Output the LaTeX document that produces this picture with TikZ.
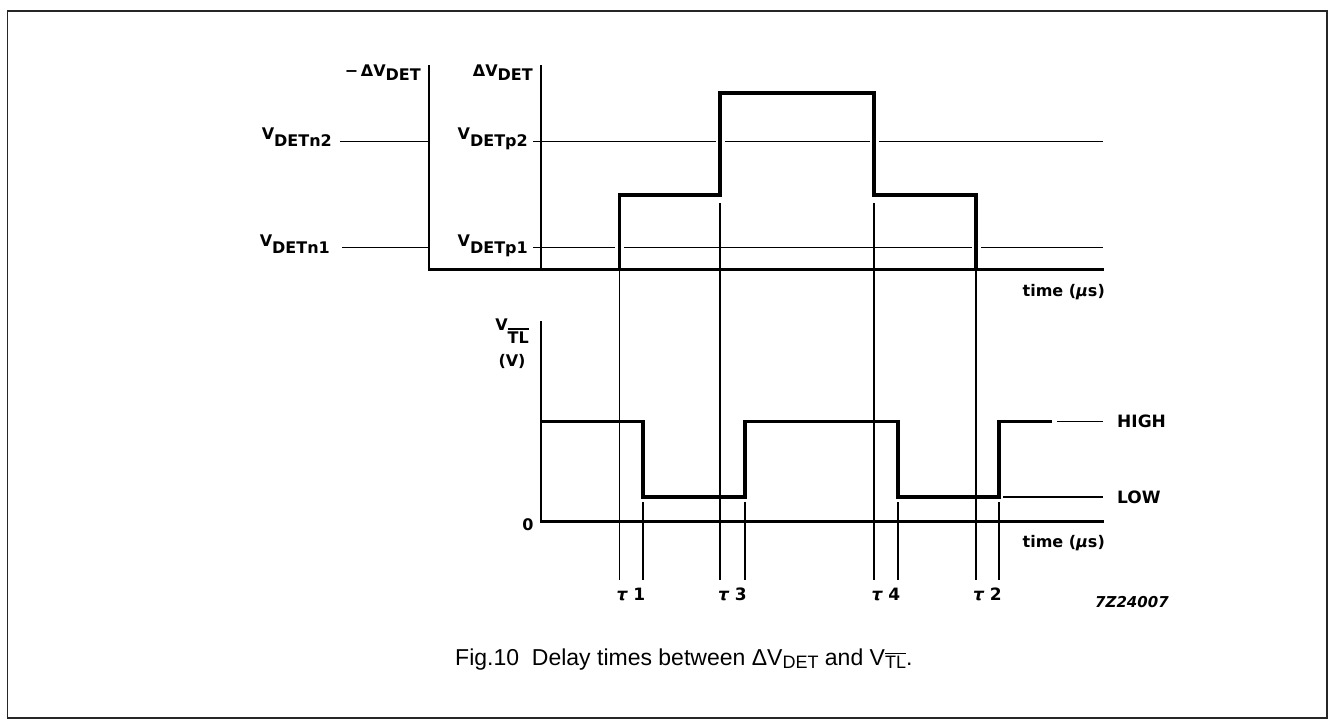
\documentclass[tikz,border=0pt]{standalone}
\usepackage{fontspec}
\setmainfont{Liberation Sans}
\newfontfamily\labfont{DejaVu Sans}
\newcommand\ovl[1]{\vbox{\hrule height 1.3pt\kern1.6pt\hbox{#1}}}
\newcommand\csub[1]{\raisebox{-3pt}{\fontsize{18}{18}\selectfont #1}}
\begin{document}
\begin{tikzpicture}[x=1pt,y=-1pt,
  axis/.style={line width=2.6pt,line cap=rect},
  sig/.style={line width=3.6pt,line join=miter},
  lev/.style={line width=1.3pt},
  tau/.style={line width=1.2pt},
  halo/.style={white,line width=9pt},
  lbl/.style={font=\labfont\bfseries\fontsize{16}{16}\selectfont, inner sep=0pt},
  big/.style={font=\labfont\bfseries\fontsize{17}{17}\selectfont, inner sep=0pt},
]
\useasboundingbox (0,0) rectangle (1329,720);
\draw[line width=1.8pt, black!85] (7.5,11) rectangle (1327,718);

% ---- coordinates ----
\coordinate (A1t) at (429,66);   \coordinate (A1b) at (429,269.5);
\coordinate (A2t) at (541,66);   \coordinate (A2b) at (541,269.5);
\coordinate (B1e) at (1103,269.5);
\coordinate (A3t) at (541,322);  \coordinate (A3b) at (541,521.5);
\coordinate (B2e) at (1103,521.5);

% ---- top chart labels ----
\node[lbl,anchor=base east] (mdv) at (421,76) {−\,ΔV\raisebox{-4pt}{DET}};
\node[lbl,anchor=base east] (dv)  at (533,76) {ΔV\raisebox{-4pt}{DET}};
\node[lbl,anchor=base east] (n2) at (332,139.5) {V\raisebox{-7pt}{DETn2}};
\node[lbl,anchor=base east] (n1) at (330,246) {V\raisebox{-7pt}{DETn1}};
\node[lbl,anchor=base east] (p2) at (528,139.5) {V\raisebox{-7pt}{DETp2}};
\node[lbl,anchor=base east] (p1) at (528,246) {V\raisebox{-7pt}{DETp1}};
\node[lbl,anchor=base east] (t1) at (1105,296) {time ({\itshape μ}s)};

% level lines
\draw[lev] (340,141.5) -- (A1t |- 0,141.5);
\draw[lev] (342,247.5) -- (A1t |- 0,247.5);
\draw[lev] (533,141.5) -- (1103,141.5);
\draw[lev] (533,247.5) -- (1103,247.5);

% tau lines
\draw[tau] (619.5,269.5) -- (619.5,580);
\draw[tau] (720,203) -- (720,580);
\draw[tau] (874,203) -- (874,580);
\draw[tau] (976,269.5) -- (976,580);
\draw[tau] (643,502) -- (643,580);
\draw[tau] (745,502) -- (745,580);
\draw[tau] (898,502) -- (898,580);
\draw[tau] (999,502) -- (999,580);

% halos
\draw[halo] (619.5,240) -- (619.5,255);
\draw[halo] (976,240) -- (976,255);
\draw[halo] (720,134) -- (720,149);
\draw[halo] (874,134) -- (874,149);

% axes
\draw[axis] (A1t) -- (A1b) -- (B1e);
\draw[axis] (A2t) -- (A2b);
% pulse
\draw[sig] (619.5,269.5) -- (619.5,195) -- (720,195) -- (720,93) -- (874,93) -- (874,195) -- (976,195) -- (976,269.5);

% ---- bottom chart ----
\node[lbl,anchor=base east] (vtl) at (529,330.5) {V\raisebox{-12.5pt}{\ovl{TL}}};
\node[lbl,anchor=base] (vu) at (512,366) {(V)};
\node[lbl,anchor=base] (zero) at (528,530) {0};
\node[lbl,anchor=base east] (t2) at (1105,547) {time ({\itshape μ}s)};
\draw[axis] (A3t) -- (A3b) -- (B2e);
\draw[sig] (541,421.5) -- (643,421.5) -- (643,497) -- (745,497) -- (745,421.5) -- (898,421.5) -- (898,497) -- (999,497) -- (999,421.5) -- (1052,421.5);
\draw[lev] (1057,421.5) -- (1103,421.5);
\draw[lev] (1003,497) -- (1103,497);
\node[big,anchor=base west] (hi) at (1117,427.5) {HIGH};
\node[big,anchor=base west] (lo) at (1117,503) {LOW};

% tau labels
\node[big,anchor=base] (l1) at (631,600) {{\itshape τ} 1};
\node[big,anchor=base] (l3) at (732.5,600) {{\itshape τ} 3};
\node[big,anchor=base] (l4) at (886,600) {{\itshape τ} 4};
\node[big,anchor=base] (l2) at (987.5,600) {{\itshape τ} 2};
\node[font=\labfont\bfseries\itshape\fontsize{15}{15}\selectfont,inner sep=0pt,anchor=base west] (code) at (1095,607) {7Z24007};

% caption
\node[anchor=base west,inner sep=0pt,font=\fontsize{23}{23}\selectfont] (cap) at (455,665)
  {Fig.10\hspace{0.28em} Delay times between ΔV\csub{DET} and V\csub{\ovl{TL}}.};
\end{tikzpicture}
\end{document}
